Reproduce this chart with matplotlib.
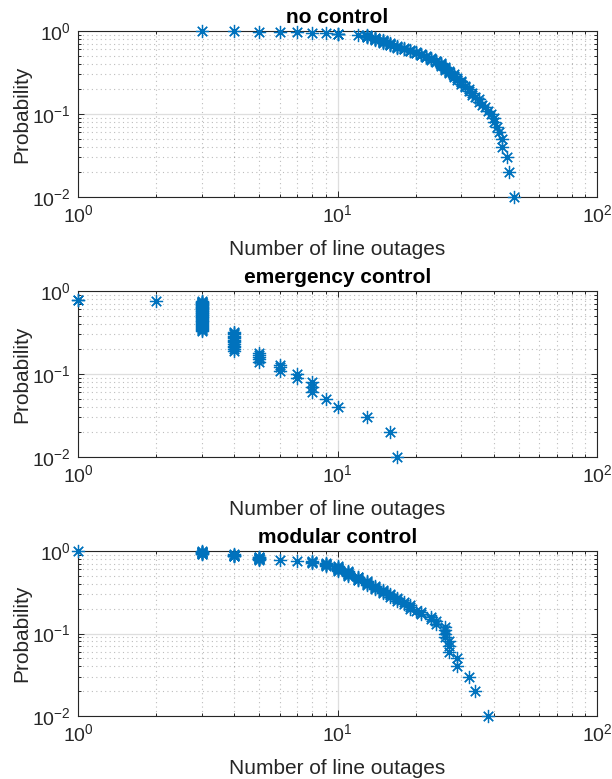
import matplotlib
matplotlib.use("Agg")
import matplotlib.pyplot as plt
from matplotlib.ticker import LogLocator, NullFormatter

plt.rcParams['font.family'] = ['Liberation Sans', 'DejaVu Sans']
plt.rcParams['mathtext.fontset'] = 'custom'
plt.rcParams['mathtext.rm'] = 'Liberation Sans'
plt.rcParams['mathtext.default'] = 'regular'

# Empirical exceedance probability levels (100 scenarios)
probability = [1.00, 0.99, 0.98, 0.97, 0.96, 0.95, 0.94, 0.93, 0.92, 0.91,
               0.90, 0.89, 0.88, 0.87, 0.86, 0.85, 0.84, 0.83, 0.82, 0.81,
               0.80, 0.79, 0.78, 0.77, 0.76, 0.75, 0.74, 0.73, 0.72, 0.71,
               0.70, 0.69, 0.68, 0.67, 0.66, 0.65, 0.64, 0.63, 0.62, 0.61,
               0.60, 0.59, 0.58, 0.57, 0.56, 0.55, 0.54, 0.53, 0.52, 0.51,
               0.50, 0.49, 0.48, 0.47, 0.46, 0.45, 0.44, 0.43, 0.42, 0.41,
               0.40, 0.39, 0.38, 0.37, 0.36, 0.35, 0.34, 0.33, 0.32, 0.31,
               0.30, 0.29, 0.28, 0.27, 0.26, 0.25, 0.24, 0.23, 0.22, 0.21,
               0.20, 0.19, 0.18, 0.17, 0.16, 0.15, 0.14, 0.13, 0.12, 0.11,
               0.10, 0.09, 0.08, 0.07, 0.06, 0.05, 0.04, 0.03, 0.02, 0.01]

no_control_outages = [3, 4, 5, 6, 7, 8, 9, 10, 10, 10,
                      12, 13, 13, 13, 13, 13, 13, 14, 14, 14,
                      14, 14, 14, 15, 15, 15, 15, 15, 15, 16,
                      16, 16, 16, 16, 17, 17, 17, 17, 18, 18,
                      18, 19, 19, 19, 20, 20, 20, 21, 21, 21,
                      22, 22, 22, 23, 23, 23, 24, 24, 24, 25,
                      25, 25, 25, 26, 26, 26, 26, 27, 27, 27,
                      28, 28, 28, 29, 29, 30, 30, 30, 31, 31,
                      32, 32, 33, 33, 34, 35, 35, 36, 37, 38,
                      39, 40, 40, 41, 42, 43, 43, 45, 46, 48]

# emergency control: 22 scenarios with zero outages are not shown on log axes
emergency_outages = [1, 1, 2, 3, 3, 3, 3, 3, 3, 3,
                     3, 3, 3, 3, 3, 3, 3, 3, 3, 3,
                     3, 3, 3, 3, 3, 3, 3, 3, 3, 3,
                     3, 3, 3, 3, 3, 3, 3, 3, 3, 3,
                     3, 3, 3, 3, 3, 3, 4, 4, 4, 4,
                     4, 4, 4, 4, 4, 4, 4, 4, 4, 4,
                     5, 5, 5, 5, 5, 6, 6, 6, 7, 7,
                     8, 8, 8, 9, 10, 13, 16, 17]
emergency_prob = probability[22:]

modular_outages = [1, 3, 3, 3, 3, 3, 3, 3, 3, 4,
                   4, 4, 4, 4, 4, 5, 5, 5, 5, 5,
                   5, 5, 5, 6, 7, 8, 8, 8, 8, 9,
                   9, 9, 9, 9, 9, 10, 10, 10, 10, 10,
                   10, 10, 10, 11, 11, 11, 11, 11, 11, 11,
                   11, 12, 12, 12, 12, 12, 12, 13, 13, 13,
                   13, 13, 14, 14, 14, 14, 15, 15, 15, 15,
                   16, 16, 16, 17, 17, 17, 18, 18, 19, 19,
                   19, 20, 21, 21, 23, 23, 24, 24, 26, 26,
                   26, 26, 27, 27, 27, 29, 29, 32, 34, 38]

titles = ["no control", "emergency control", "modular control"]
xlabel_text = "Number of line outages"
ylabel_text = "Probability"

W, H = 612, 779
fig = plt.figure(figsize=(W / 100, H / 100), dpi=100)

# axes boxes in pixels: (left, top, right, bottom)
boxes = [(78, 31, 597, 197), (78, 291, 597, 457), (78, 551, 597, 716)]
series = [(no_control_outages, probability),
          (emergency_outages, emergency_prob),
          (modular_outages, probability)]

blue = '#0072BD'
dark = (0.15, 0.15, 0.15)

for (l, t, r, b), (xs, ys), title in zip(boxes, series, titles):
    ax = fig.add_axes([l / W, 1 - b / H, (r - l) / W, (b - t) / H])
    ax.plot(xs, ys, linestyle='none', marker=(8, 2, 0), markersize=9.5,
            markeredgewidth=0.9, color=blue, clip_on=False, zorder=3)
    ax.set_xscale('log')
    ax.set_yscale('log')
    ax.set_xlim(1, 100)
    ax.set_ylim(0.01, 1)
    ax.xaxis.set_minor_locator(LogLocator(base=10, subs=range(2, 10)))
    ax.yaxis.set_minor_locator(LogLocator(base=10, subs=range(2, 10)))
    ax.xaxis.set_minor_formatter(NullFormatter())
    ax.yaxis.set_minor_formatter(NullFormatter())
    ax.grid(which='major', color=dark, alpha=0.15, linestyle='-', linewidth=0.9)
    ax.grid(which='minor', color=dark, alpha=0.3, linestyle=(0, (1, 3)), linewidth=0.8)
    ax.set_axisbelow(True)
    ax.tick_params(which='both', direction='in', top=True, right=True,
                   color=dark, labelcolor=dark, width=0.7)
    ax.tick_params(which='major', length=4, labelsize=14, pad=5)
    ax.tick_params(which='minor', length=2)
    for s in ax.spines.values():
        s.set_color(dark)
        s.set_linewidth(0.8)
    ax.set_title(title, fontsize=15, fontweight='bold', pad=6, color='black')
    ax.set_xlabel(xlabel_text, fontsize=15, color=dark, labelpad=10)
    ax.set_ylabel(ylabel_text, fontsize=15, color=dark, labelpad=1)

fig.savefig("out.png", dpi=100)
